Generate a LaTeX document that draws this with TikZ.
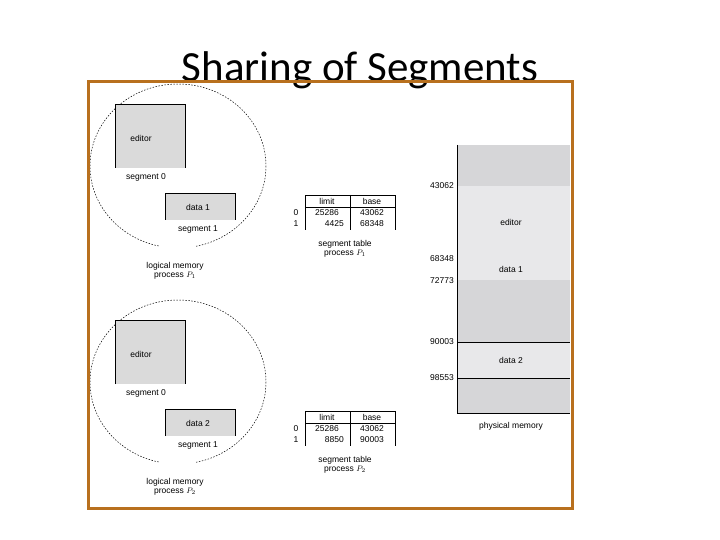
\documentclass[tikz,border=0pt]{standalone}
\usepackage{fontspec}
\setmainfont{Liberation Sans}
\newfontfamily\titlefont{Carlito}
\definecolor{frameorange}{RGB}{184,112,30}
\definecolor{segfill}{RGB}{218,218,218}
\definecolor{memdark}{RGB}{214,214,216}
\definecolor{memlight}{RGB}{232,232,234}
\tikzset{
  lbl/.style={font=\fontsize{8.5}{9}\selectfont, inner sep=0pt},
  segbox/.style={fill=segfill, draw=black, line width=0.5pt},
}
\begin{document}
\begin{tikzpicture}[x=1pt, y=-1pt, line width=0.5pt]
  \useasboundingbox[fill=white] (0,0) rectangle (720,540);

  % title
  \node[font=\titlefont\fontsize{43}{46}\selectfont, inner sep=0pt, anchor=base] (title) at (360,82) {Sharing of Segments};

  % two processes
  \foreach \dy/\dname/\pn in {0/data 1/1, 216/data 2/2} {
    \begin{scope}[shift={(0,\dy)}]
      % logical memory
      \draw[dashed, dash pattern=on 1.5pt off 1.5pt] (178,166) ellipse (88 and 82);
      \fill[white] (160,246) rectangle (196,251);
      \fill[segfill] (115,104) rectangle (185,168);
      \draw (115,168) -- (115,104) -- (185,104) -- (185,168);
      \node[lbl] (ed) at (141,138) {editor};
      \node[lbl] (s0) at (146,177) {segment 0};
      \fill[segfill] (165,193) rectangle (235,220);
      \draw (165,220) -- (165,193) -- (235,193) -- (235,220);
      \node[lbl] (dt) at (198,207) {\dname};
      \node[lbl] (s1) at (198,229) {segment 1};
      \node[lbl, align=center] (lm) at (175,271) {logical memory\\[0pt]process $P_{\pn}$};

      % segment table
      \draw (305,195) rectangle (395,207);
      \draw (350,195) -- (350,230);
      \draw (305,207) -- (305,230);
      \draw (395,207) -- (395,230);
      \node[lbl] (hl) at (327,201) {limit};
      \node[lbl] (hb) at (372,201) {base};
      \node[lbl] (r0) at (296,213) {0};
      \node[lbl] (r1) at (296,224) {1};
      \node[lbl] (l0) at (327,213) {25286};
      \node[lbl, anchor=east] (l1) at (344,224) {\ifnum\pn=1 4425\else 8850\fi};
      \node[lbl] (b0) at (372,213) {43062};
      \node[lbl] (b1) at (372,224) {\ifnum\pn=1 68348\else 90003\fi};
      \node[lbl, align=center] (st) at (345,249) {segment table\\[0pt]process $P_{\pn}$};
    \end{scope}
  }

  % physical memory
  \fill[memdark] (457,145) rectangle (570,413);
  \fill[memlight] (457,186) rectangle (570,280);
  \fill[memlight] (457,342) rectangle (570,378);
  \draw (457,145) -- (457,413) -- (570,413);
  \draw (457,342) -- (570,342);
  \draw (457,378) -- (570,378);
  \node[lbl] (pe) at (511,222) {editor};
  \node[lbl] (pd1) at (511,269) {data 1};
  \node[lbl] (pd2) at (511,360) {data 2};
  \node[lbl] (pm) at (511,426) {physical memory};
  \foreach \y/\a in {186/43062, 259/68348, 281/72773, 342/90003, 378/98553}
    \node[lbl, anchor=east] at (454,\y) {\a};

  % frame
  \draw[frameorange, line width=3pt] (88,82) rectangle (572,508);
\end{tikzpicture}
\end{document}
